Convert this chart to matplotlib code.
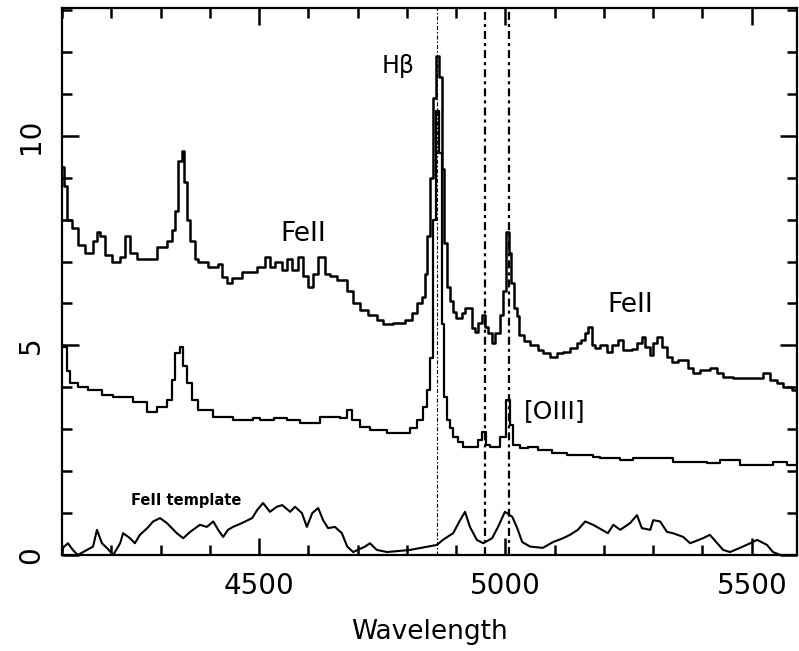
import matplotlib
matplotlib.use("Agg")
import matplotlib.pyplot as plt
from matplotlib.ticker import MultipleLocator

# Observed spectrum (top), bin start wavelengths and flux
topWave = [4100, 4104, 4110, 4120, 4132, 4147, 4163, 4171, 4177, 4187,
           4202, 4218, 4228, 4238, 4252, 4293, 4313, 4323, 4329, 4335,
           4344, 4348, 4354, 4360, 4370, 4376, 4396, 4417, 4425, 4435,
           4445, 4465, 4496, 4512, 4522, 4532, 4547, 4557, 4567, 4579,
           4589, 4599, 4610, 4620, 4634, 4644, 4658, 4679, 4691, 4705,
           4721, 4739, 4752, 4772, 4796, 4811, 4821, 4831, 4837, 4841,
           4847, 4853, 4859, 4865, 4871, 4875, 4882, 4888, 4894, 4900,
           4912, 4918, 4932, 4938, 4944, 4953, 4959, 4965, 4973, 4979,
           4989, 4996, 5002, 5008, 5012, 5018, 5024, 5028, 5038, 5050,
           5066, 5076, 5091, 5105, 5117, 5131, 5145, 5154, 5162, 5168,
           5176, 5182, 5192, 5206, 5217, 5229, 5239, 5257, 5267, 5277,
           5283, 5294, 5300, 5308, 5318, 5328, 5338, 5350, 5371, 5381,
           5395, 5415, 5430, 5442, 5462, 5523, 5537, 5551, 5564, 5582, 5592]
topFlux = [9.26, 8.8, 8.0, 7.8, 7.4, 7.2, 7.5, 7.7, 7.6, 7.15,
           7.0, 7.1, 7.6, 7.2, 7.05, 7.35, 7.5, 7.75, 8.2, 9.4,
           9.65, 8.9, 8.0, 7.5, 7.05, 7.0, 6.87, 6.95, 6.63, 6.5,
           6.6, 6.75, 6.87, 7.1, 6.87, 7.0, 6.8, 7.05, 6.8, 7.1,
           6.65, 6.4, 6.7, 7.1, 6.7, 6.65, 6.55, 6.3, 6.0, 5.85,
           5.73, 5.6, 5.5, 5.53, 5.6, 5.77, 6.0, 6.15, 6.7, 7.6,
           9.0, 10.9, 11.9, 11.4, 9.2, 7.45, 6.4, 6.05, 5.8, 5.65,
           5.77, 5.9, 5.42, 5.33, 5.53, 5.73, 5.45, 5.3, 5.05, 5.3,
           5.73, 6.3, 7.7, 7.2, 6.5, 5.9, 5.7, 5.25, 5.1, 5.0,
           4.9, 4.82, 4.73, 4.82, 4.85, 4.93, 5.05, 5.13, 5.3, 5.45,
           5.0, 4.93, 5.0, 4.85, 5.0, 5.13, 4.9, 4.92, 5.05, 5.2,
           4.97, 4.77, 5.05, 5.2, 4.97, 4.73, 4.6, 4.65, 4.46, 4.34,
           4.42, 4.46, 4.34, 4.25, 4.22, 4.34, 4.18, 4.1, 4.0, 3.94, 3.94]

# Shifted spectrum (middle)
midWave = [4100, 4110, 4116, 4132, 4153, 4181, 4204, 4244, 4273, 4293,
           4313, 4323, 4329, 4340, 4346, 4354, 4364, 4376, 4407, 4447,
           4488, 4502, 4530, 4557, 4584, 4624, 4664, 4679, 4689, 4705,
           4725, 4760, 4806, 4821, 4833, 4841, 4847, 4853, 4859, 4865,
           4871, 4875, 4882, 4888, 4894, 4904, 4914, 4944, 4953, 4961,
           4969, 4989, 5002, 5009, 5016, 5030, 5046, 5066, 5095, 5125,
           5178, 5192, 5233, 5259, 5340, 5409, 5436, 5476, 5543, 5572, 5592]
midFlux = [4.97, 4.4, 4.1, 4.0, 3.94, 3.82, 3.77, 3.65, 3.41, 3.53,
           3.7, 4.18, 4.82, 4.97, 4.5, 4.1, 3.7, 3.46, 3.3, 3.22,
           3.27, 3.22, 3.27, 3.22, 3.15, 3.3, 3.27, 3.46, 3.22, 3.05,
           2.98, 2.91, 3.03, 3.22, 3.53, 3.94, 4.7, 8.0, 10.6, 9.6,
           5.5, 3.77, 3.22, 3.03, 2.82, 2.7, 2.58, 2.74, 2.94, 2.62,
           2.58, 2.82, 3.7, 3.1, 2.62, 2.55, 2.58, 2.5, 2.43, 2.39,
           2.34, 2.31, 2.27, 2.31, 2.22, 2.2, 2.27, 2.15, 2.22, 2.15, 2.15]

# FeII template (bottom)
feWave = [4100, 4102, 4112, 4122, 4132, 4163, 4171, 4181, 4191, 4204,
          4218, 4224, 4238, 4248, 4258, 4273, 4285, 4299, 4313, 4333,
          4346, 4360, 4380, 4394, 4407, 4417, 4427, 4437, 4447, 4465,
          4486, 4496, 4508, 4522, 4536, 4547, 4563, 4573, 4587, 4597,
          4608, 4620, 4630, 4640, 4654, 4668, 4679, 4691, 4715, 4725,
          4739, 4760, 4806, 4861, 4873, 4894, 4908, 4918, 4928, 4942,
          4955, 4973, 4985, 4999, 5014, 5024, 5034, 5050, 5076, 5097,
          5117, 5131, 5147, 5162, 5178, 5196, 5208, 5219, 5233, 5253,
          5267, 5277, 5294, 5300, 5314, 5328, 5340, 5361, 5375, 5401,
          5415, 5430, 5442, 5456, 5476, 5497, 5511, 5531, 5543, 5558, 5592]
feFlux = [0.05, 0.17, 0.28, 0.12, 0.0, 0.2, 0.6, 0.28, 0.17, 0.0,
          0.28, 0.52, 0.4, 0.28, 0.48, 0.64, 0.8, 0.88, 0.76, 0.52,
          0.4, 0.55, 0.72, 0.67, 0.8, 0.6, 0.43, 0.6, 0.67, 0.76,
          0.88, 1.07, 1.24, 1.03, 1.15, 1.19, 1.03, 1.15, 1.0, 0.67,
          1.0, 1.12, 0.83, 0.64, 0.67, 0.52, 0.2, 0.07, 0.2, 0.28,
          0.12, 0.07, 0.12, 0.24, 0.36, 0.52, 0.83, 1.03, 0.67, 0.36,
          0.28, 0.4, 0.67, 1.03, 0.91, 0.64, 0.31, 0.2, 0.17, 0.31,
          0.4, 0.48, 0.6, 0.8, 0.72, 0.6, 0.52, 0.72, 0.6, 0.76,
          0.95, 0.64, 0.6, 0.83, 0.8, 0.55, 0.52, 0.43, 0.28, 0.4,
          0.48, 0.28, 0.12, 0.07, 0.17, 0.28, 0.36, 0.24, 0.07, 0.0, 0.0]

lineWaves = [4861, 4959, 5007]
lineWidths = [0.8, 1.6, 1.6]

fig = plt.figure(figsize=(7.99, 6.51), dpi=100)
ax = fig.add_axes([0.0776, 0.1475, 0.92, 0.8402])

ax.step(topWave, topFlux, where="post", color="black", lw=1.8)
ax.step(midWave, midFlux, where="post", color="black", lw=1.6)
ax.plot(feWave, feFlux, color="black", lw=1.5)

for w, lw in zip(lineWaves, lineWidths):
  ax.axvline(w, color="black", lw=lw, linestyle=(0, (3.6, 1.8, 1.4, 1.8)))

ax.text(4782, 11.67, "H\u03b2", fontsize=17, ha="center", va="center")
ax.text(4589, 7.66, "FeII", fontsize=19, ha="center", va="center")
ax.text(5253, 5.97, "FeII", fontsize=19, ha="center", va="center")
ax.text(5101, 3.44, "[OIII]", fontsize=18, ha="center", va="center")
ax.text(4352, 1.31, "FeII template", fontsize=10.5, fontweight="bold",
        ha="center", va="center")

ax.set_xlim(4100, 5592)
ax.set_ylim(0, 13.05)
ax.xaxis.set_major_locator(MultipleLocator(500))
ax.xaxis.set_minor_locator(MultipleLocator(100))
ax.yaxis.set_major_locator(MultipleLocator(5))
ax.yaxis.set_minor_locator(MultipleLocator(1))
ax.tick_params(which="both", direction="in", top=True, right=True, width=1.8)
ax.tick_params(which="major", length=12, labelsize=20)
ax.tick_params(axis="x", which="major", pad=12)
ax.tick_params(axis="y", which="major", pad=12)
ax.tick_params(which="minor", length=7.5)
for lab in ax.get_yticklabels():
  lab.set_rotation(90)
  lab.set_va("center")
for s in ax.spines.values():
  s.set_linewidth(1.6)

ax.set_xlabel("Wavelength", fontsize=19, labelpad=14)

fig.savefig("out.png", dpi=100)
